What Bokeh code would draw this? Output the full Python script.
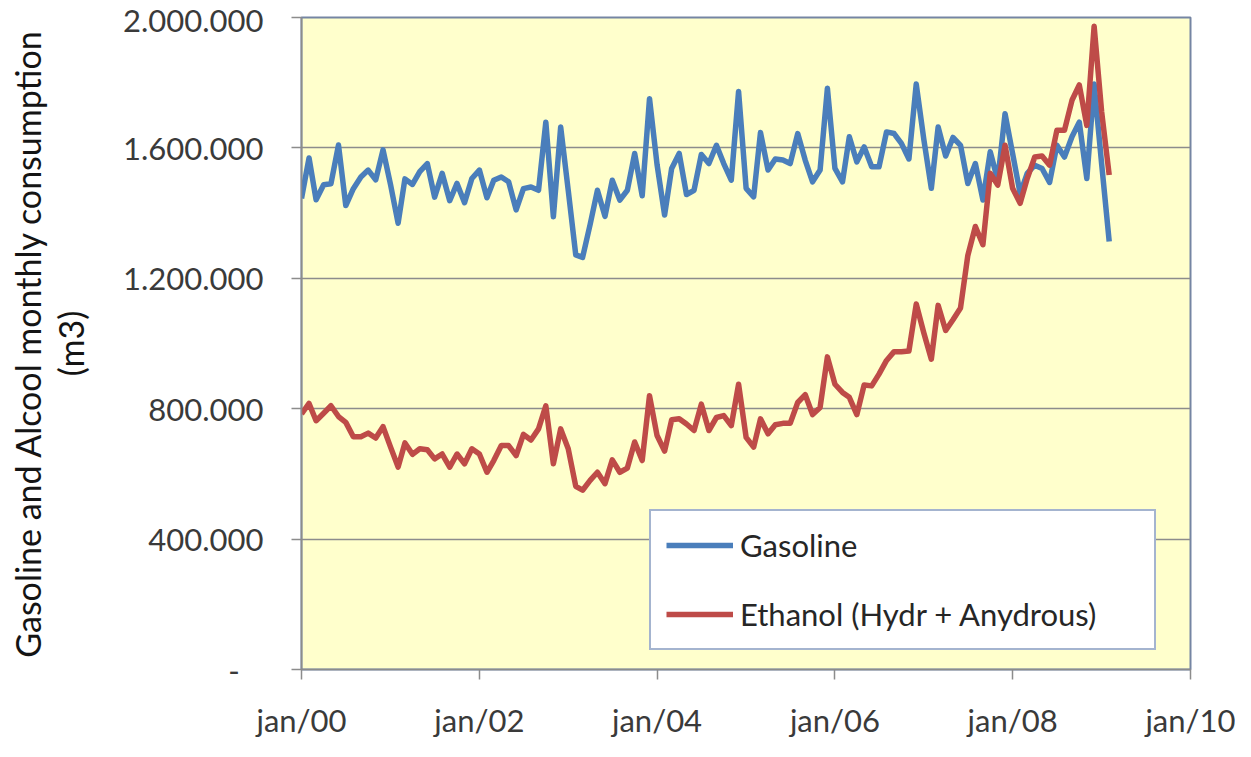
import pandas as pd
from bokeh.plotting import figure
from bokeh.models import (Range1d, FixedTicker, CustomJSTickFormatter, Legend,
                          LegendItem, Title, ColumnDataSource)
from bokeh.embed import file_html
from bokeh.resources import INLINE

# ---- data, monthly from jan/2000 ----
start_month = "2000-01-01"
n_months = 110

gasoline = [
    1445, 1569, 1441, 1487, 1490, 1609, 1423, 1475, 1511, 1532,
    1502, 1594, 1487, 1369, 1505, 1488, 1527, 1552, 1449, 1522,
    1438, 1491, 1432, 1506, 1532, 1447, 1501, 1511, 1496, 1410,
    1475, 1480, 1470, 1679, 1389, 1664, 1470, 1272, 1264, 1365,
    1470, 1390, 1501, 1440, 1470, 1583, 1453, 1751, 1549, 1394,
    1537, 1583, 1457, 1470, 1580, 1552, 1608, 1552, 1501, 1773,
    1476, 1450, 1647, 1532, 1566, 1563, 1552, 1644, 1562, 1496,
    1532, 1783, 1537, 1496, 1634, 1557, 1603, 1542, 1542, 1649,
    1644, 1614, 1566, 1796, 1627, 1476, 1664, 1575, 1632, 1608,
    1491, 1552, 1440, 1588, 1501, 1705, 1583, 1460, 1522, 1547,
    1537, 1494, 1608, 1572, 1634, 1679, 1506, 1796, 1550, 1313,
]

ethanol = [
    784, 816, 763, 786, 809, 776, 758, 714, 714, 725,
    710, 745, 682, 621, 695, 660, 677, 674, 646, 661,
    621, 661, 631, 677, 661, 605, 641, 687, 687, 656,
    721, 704, 738, 809, 631, 738, 677, 562, 550, 580,
    605, 570, 643, 605, 618, 698, 641, 840, 718, 670,
    766, 769, 753, 733, 814, 733, 773, 779, 748, 875,
    712, 682, 769, 723, 751, 755, 755, 819, 843, 782,
    804, 959, 875, 850, 835, 782, 873, 870, 906, 948,
    975, 975, 977, 1121, 1033, 952, 1117, 1040, 1073, 1109,
    1270, 1359, 1303, 1522, 1486, 1608, 1476, 1430, 1506, 1572,
    1575, 1547, 1654, 1654, 1746, 1793, 1669, 1973, 1710, 1517,
]

series_names = ["Gasoline", "Ethanol (Hydr + Anydrous)"]
y_ticks = [0, 400000, 800000, 1200000, 1600000, 2000000]
x_tick_years = [2000, 2002, 2004, 2006, 2008, 2010]
y_title_lines = ["Gasoline and Alcool monthly consumption", "(m3)"]

months = pd.date_range(start_month, periods=n_months, freq="MS")
src = ColumnDataSource(dict(
    date=months,
    gas=[v * 1000 for v in gasoline],
    eth=[v * 1000 for v in ethanol],
))

FONT = "Lato"

p = figure(
    width=1235, height=741,
    x_axis_type="datetime",
    x_range=Range1d(pd.Timestamp("2000-01-01"), pd.Timestamp("2010-01-01")),
    y_range=Range1d(0, 2000000),
    output_backend="svg", toolbar_location=None,
    min_border_left=301, min_border_right=45,
    min_border_top=17, min_border_bottom=68,
    background_fill_color="#FFFFCC",
    border_fill_color="white",
)

p.outline_line_color = "#7585A3"
p.outline_line_width = 2

gl = p.line("date", "gas", source=src, line_color="#4A7EBB", line_width=5.5,
            line_join="round")
el = p.line("date", "eth", source=src, line_color="#BE4B48", line_width=5.5,
            line_join="round")

# grid
p.xgrid.visible = False
p.ygrid.grid_line_color = "#8C8C8C"
p.ygrid.grid_line_width = 1.5
p.ygrid.ticker = FixedTicker(ticks=y_ticks)

# y axis
p.yaxis.ticker = FixedTicker(ticks=y_ticks)
p.yaxis.formatter = CustomJSTickFormatter(code="""
    if (tick == 0) return '-\u00a0\u00a0\u00a0';
    return Math.round(tick).toString().replace(/\\B(?=(\\d{3})+(?!\\d))/g, '.');
""")
p.yaxis.axis_line_color = "#8C8C8C"
p.yaxis.axis_line_width = 1.5
p.yaxis.major_tick_line_color = "#8C8C8C"
p.yaxis.major_tick_line_width = 1.5
p.yaxis.major_tick_out = 10
p.yaxis.major_tick_in = 0
p.yaxis.minor_tick_line_color = None
p.yaxis.major_label_text_font = FONT
p.yaxis.major_label_text_font_size = "31px"
p.yaxis.major_label_text_color = "#3A3A3A"
p.yaxis.major_label_standoff = 28

# x axis
x_ticks_ms = [pd.Timestamp(f"{y}-01-01").value // 10**6 for y in x_tick_years]
p.xaxis.ticker = FixedTicker(ticks=x_ticks_ms)
p.xaxis.formatter = CustomJSTickFormatter(code="""
    const d = new Date(tick);
    return 'jan/' + String(d.getUTCFullYear() % 100).padStart(2, '0');
""")
p.xaxis.axis_line_color = "#8C8C8C"
p.xaxis.axis_line_width = 1.5
p.xaxis.major_tick_line_color = "#8C8C8C"
p.xaxis.major_tick_line_width = 1.5
p.xaxis.major_tick_out = 10
p.xaxis.major_tick_in = 0
p.xaxis.minor_tick_line_color = None
p.xaxis.major_label_text_font = FONT
p.xaxis.major_label_text_font_size = "31px"
p.xaxis.major_label_text_color = "#3A3A3A"
p.xaxis.major_label_standoff = 21

# y title (two lines)
t2 = Title(text=y_title_lines[1], align="center", text_font=FONT,
           text_font_size="34px", text_font_style="normal",
           text_color="#141414", standoff=60)
t1 = Title(text=y_title_lines[0], align="center", text_font=FONT,
           text_font_size="34px", text_font_style="normal",
           text_color="#141414", standoff=-60)
p.add_layout(t2, "left")
p.add_layout(t1, "left")

# legend
legend = Legend(
    items=[LegendItem(label=series_names[0], renderers=[gl]),
           LegendItem(label=series_names[1], renderers=[el])],
    location=(348, 19),
    orientation="vertical",
    background_fill_color="white", background_fill_alpha=1.0,
    border_line_color="#4A6A9F", border_line_width=2,
    label_text_font=FONT, label_text_font_size="31px",
    label_text_color="#262626",
    padding=15, spacing=31,
    glyph_width=67, glyph_height=26, label_height=26,
    label_standoff=7, label_width=399,
    margin=0,
)
p.add_layout(legend, "center")

open("out.html", "w").write(file_html(p, INLINE))
